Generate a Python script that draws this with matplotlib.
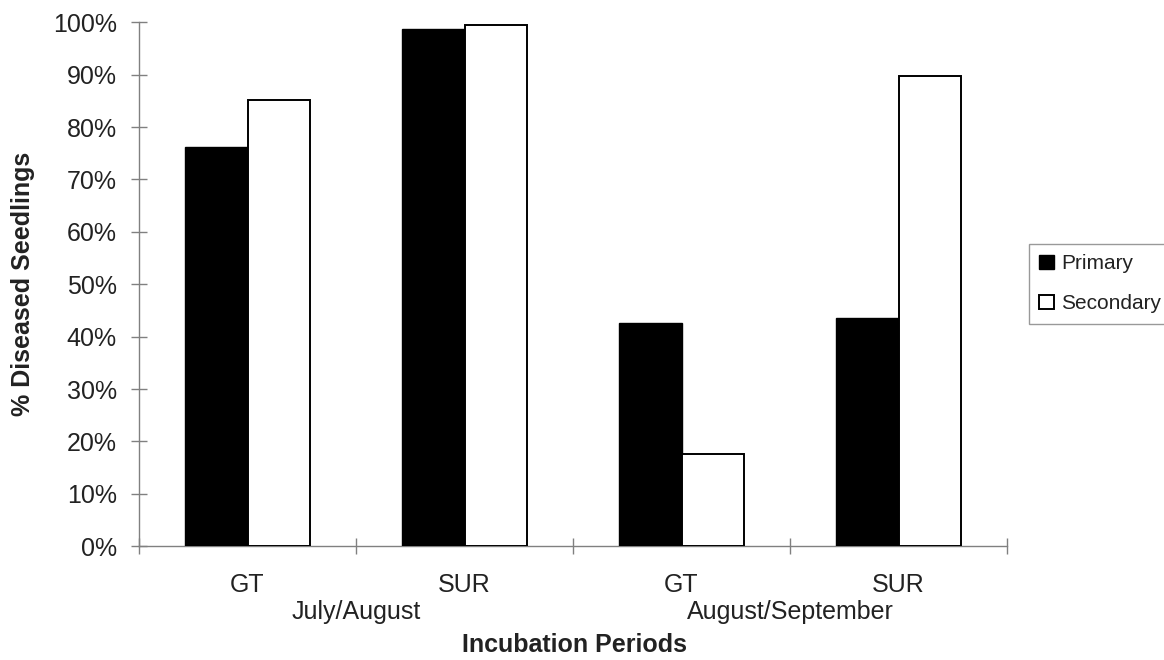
import matplotlib
matplotlib.use("Agg")
import matplotlib.pyplot as plt
import matplotlib.transforms as mtransforms
import numpy as np
from matplotlib.ticker import PercentFormatter

plt.rcParams['font.family'] = ['Liberation Sans', 'DejaVu Sans']

categories = ["GT", "SUR", "GT", "SUR"]
periods = ["July/August", "August/September"]
primary = [76.2, 98.7, 42.6, 43.6]
secondary = [85.2, 99.4, 17.6, 89.8]
series_names = ["Primary", "Secondary"]

W, H = 1164, 660
fig = plt.figure(figsize=(W / 100, H / 100), dpi=100)
ax = fig.add_axes([139 / W, 1 - 546.3 / H, (1007 - 139) / W, (546.3 - 22.3) / H])

txt = '#222222'
gray = '#808080'
x = np.arange(len(categories))
bw = 0.29
ax.bar(x - bw / 2, primary, bw, color='black', edgecolor='black', linewidth=1.0,
       label=series_names[0], zorder=3)
ax.bar(x + bw / 2, secondary, bw, color='white', edgecolor='black', linewidth=1.4,
       label=series_names[1], zorder=3)

ax.set_xlim(-0.5, len(categories) - 0.5)
ax.set_ylim(0, 100)
ax.set_yticks(np.arange(0, 101, 10))
ax.yaxis.set_major_formatter(PercentFormatter(decimals=0))
ax.set_xticks(np.arange(-0.5, len(categories), 1.0))
ax.set_xticklabels([])

for s in ['top', 'right']:
    ax.spines[s].set_visible(False)
for s in ['left', 'bottom']:
    ax.spines[s].set_color(gray)
    ax.spines[s].set_linewidth(1.0)
ax.tick_params(axis='y', direction='inout', length=12, width=1.0, color=gray,
               labelsize=18, labelcolor=txt, pad=10)
ax.tick_params(axis='x', direction='inout', length=11.5, width=1.0, color=gray)

blend = mtransforms.blended_transform_factory(ax.transData, fig.transFigure)
for i, c in enumerate(categories):
    ax.text(i, (H - 592) / H, c, transform=blend, ha='center', va='baseline',
            fontsize=18, color=txt)
for j, p in enumerate(periods):
    ax.text(2 * j + 0.5, (H - 619) / H, p, transform=blend, ha='center', va='baseline',
            fontsize=18, color=txt)

fig.text(574 / W, 8 / H, "Incubation Periods", ha='center', va='baseline',
         fontsize=18, fontweight='bold', color=txt)
fig.text(23 / W, (H - 284) / H, "% Diseased Seedlings", ha='center', va='center',
         rotation=90, fontsize=18, fontweight='bold', color=txt)

leg = ax.legend(loc='upper left', bbox_to_anchor=(1029 / W, 1 - 244 / H),
                bbox_transform=fig.transFigure, frameon=True, fancybox=False,
                fontsize=15, handlelength=0.7, handleheight=0.7,
                handletextpad=0.35, borderpad=0.5, labelspacing=1.0,
                borderaxespad=0)
leg.get_frame().set_edgecolor(gray)
leg.get_frame().set_linewidth(1.0)
for t in leg.get_texts():
    t.set_color(txt)

fig.savefig("out.png", dpi=100)
